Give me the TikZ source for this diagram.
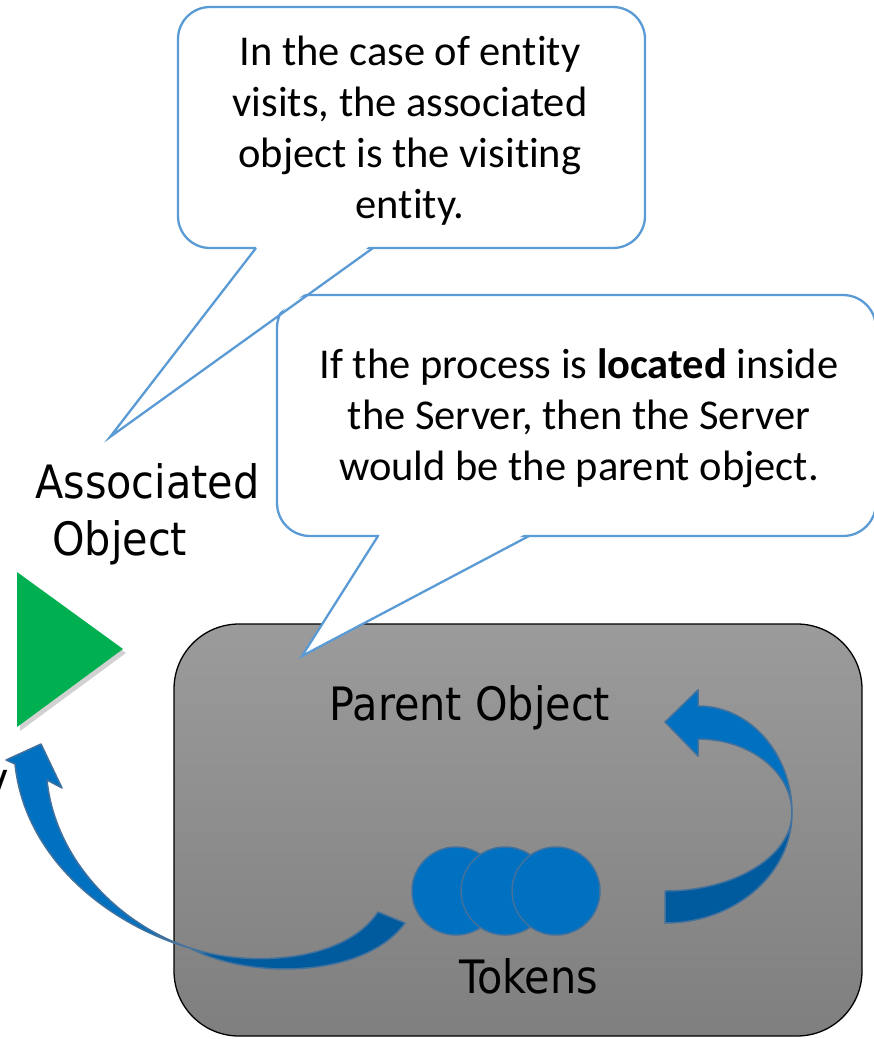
\documentclass[tikz,border=0pt]{standalone}
\usepackage{fontspec}
\setmainfont{Carlito}[Ligatures=NoCommon]
\newfontfamily\labelfont{DejaVu Sans Condensed}
\definecolor{calloutblue}{HTML}{5B9BD5}
\definecolor{tokenblue}{HTML}{0070C0}
\definecolor{tokenedge}{HTML}{41719C}
\definecolor{darkblue}{HTML}{005A9E}
\definecolor{entgreen}{HTML}{00B050}
\definecolor{graytop}{HTML}{9B9B9B}
\definecolor{graybot}{HTML}{7F7F7F}
\tikzset{
  calloutline/.style={draw=calloutblue, line width=2.3pt, fill=white},
  pointerline/.style={draw=calloutblue, line width=2.3pt, line join=miter},
  callouttext/.style={font=\fontsize{42.5}{51}\selectfont, align=center, inner sep=0pt},
  lbl/.style={font=\labelfont\fontsize{46}{57}\selectfont, inner sep=0pt},
  token/.style={circle, fill=tokenblue, draw=tokenedge, line width=1.5pt, minimum size=88pt, inner sep=0pt},
  lightband/.style={fill=tokenblue, draw=tokenedge, line width=1.5pt, line join=round},
  darkband/.style={fill=darkblue, draw=tokenedge, line width=1.5pt, line join=round},
}
\begin{document}
\begin{tikzpicture}[x=1pt,y=-1pt]
\useasboundingbox (0,0) rectangle (874,1039);
\clip (0,0) rectangle (874,1039);

% parent object box
\draw[black, line width=1.3pt, rounded corners=65pt, top color=graytop, bottom color=graybot]
  (174,624) rectangle (862,1036);
\node[lbl, anchor=base] (parent) at (470,720) {Parent Object};
\node[lbl, anchor=base] (tokens) at (529,993) {Tokens};

% tokens
\node[token] (t1) at (456,891) {};
\node[token] (t2) at (505,891) {};
\node[token] (t3) at (556,891) {};

% entity triangle
\fill[black, opacity=0.18] (20,576) -- (126,653) -- (20,731) -- cycle;
\fill[entgreen] (17,572) -- (123,649) -- (17,727) -- cycle;
\node[lbl, anchor=base east] (entity) at (9,795) {Entity};
\node[lbl, anchor=base west, align=left] (assoc) at (35,555) {Associated\\\hspace*{17pt}Object};

% curved arrow: tokens -> entity
\path[lightband] (15,764) .. controls (25,860) and (110,925) .. (190,948)
  .. controls (120,925) and (55,860) .. (47,780) -- (62,788) -- (41,744) -- (6,760) -- cycle;
\path[darkband] (190,948) .. controls (250,980) and (365,978) .. (405,923) -- (378,912)
  .. controls (345,962) and (250,968) .. (190,948) -- cycle;

% curved arrow: tokens -> parent object
\path[darkband] (665,923) .. controls (735,923) and (792,874) .. (792,813)
  .. controls (792,856) and (735,891) .. (665,891) -- cycle;
\path[lightband] (792,813) .. controls (792,754) and (750,706) .. (698,706) -- (698,690)
  -- (665,722) -- (698,756) -- (698,739) .. controls (750,739) and (792,772) .. (792,813) -- cycle;

% callout 2
\draw[calloutline, rounded corners=33pt] (277,295) rectangle (876,536);
\fill[white] (381,533) -- (302,656) -- (527,533) -- cycle;
\draw[pointerline] (378,536) -- (302,656) -- (529,536);
\node[callouttext, anchor=base] (c2) at (579,480)
  {If the process is \textbf{located} inside\\the Server, then the Server\\would be the parent object.};

% callout 1
\draw[calloutline, rounded corners=32pt] (178,7) rectangle (645,248);
\fill[white] (258,245) -- (110,437) -- (371,245) -- cycle;
\draw[pointerline] (256,248) -- (110,437) -- (373,248);
\node[callouttext, anchor=base] (c1) at (410,218)
  {In the case of entity\\visits, the associated\\object is the visiting\\entity.};
\end{tikzpicture}
\end{document}
